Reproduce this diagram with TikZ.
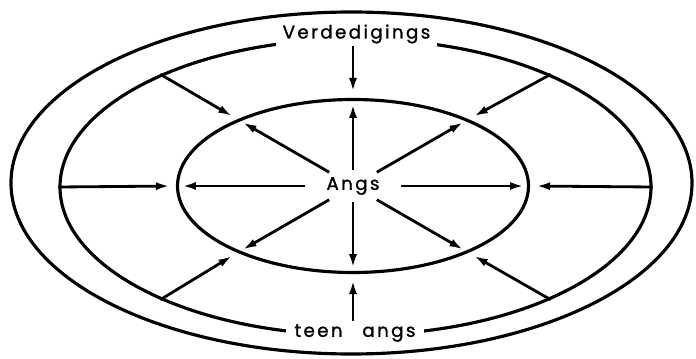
\documentclass[tikz,border=0pt]{standalone}
\usepackage{fontspec}
\setmainfont{Poppins}
\usetikzlibrary{arrows.meta,shapes.geometric}

\begin{document}
\begin{tikzpicture}[>={Latex[length=2.8mm,width=1.6mm]},
    ring/.style={draw, ellipse, line width=1.8pt, inner sep=0pt},
    arr/.style={->, line width=1.6pt, shorten >=1.2mm},
    lbl/.style={inner ysep=0.5mm, font=\fontsize{10.4}{12}\selectfont\addfontfeature{LetterSpace=13,FakeBold=1.2}}]
  \useasboundingbox (-7.06,-3.44) rectangle (6.86,3.72);
  % the three rings
  \node[ring, minimum width=13.62cm, minimum height=6.84cm] (outer) at (-0.03,0.06) {};
  \node[ring, minimum width=11.82cm, minimum height=5.92cm] (middle) at (0.05,-0.02) {};
  \node[ring, minimum width=7.02cm, minimum height=3.46cm] (inner) at (0,0) {};
  % labels
  \node[lbl, fill=white, inner xsep=1.4mm] (verd) at (0.07,3.04) {Verdedigings};
  \node[lbl, fill=white, inner xsep=1.8mm] (teen) at (0.04,-2.94) {teen\hspace{2.5mm} angs};
  \node[lbl, ellipse, minimum width=1.9cm, minimum height=0.62cm, inner sep=0pt] (angs) at (0,0) {Angs};
  % from the ring inwards
  \draw[arr] (inner.north |- verd.south) -- (inner.north);
  \draw[arr] (inner.south |- teen.north) -- (inner.south);
  \draw[arr] (middle.180) -- (inner.180);
  \draw[arr] (middle.0) -- (inner.0);
  \draw[arr] (middle.150) -- (inner.150);
  \draw[arr] (middle.30) -- (inner.30);
  \draw[arr] (middle.210) -- (inner.210);
  \draw[arr] (middle.330) -- (inner.330);
  % from Angs outwards
  \draw[arr] (angs.90) -- (inner.90);
  \draw[arr] (angs.270) -- (inner.270);
  \draw[arr] (angs.180) -- (inner.180);
  \draw[arr] (angs.0) -- (inner.0);
  \draw[arr] (angs.150) -- (inner.150);
  \draw[arr] (angs.30) -- (inner.30);
  \draw[arr] (angs.210) -- (inner.210);
  \draw[arr] (angs.330) -- (inner.330);
\end{tikzpicture}
\end{document}
